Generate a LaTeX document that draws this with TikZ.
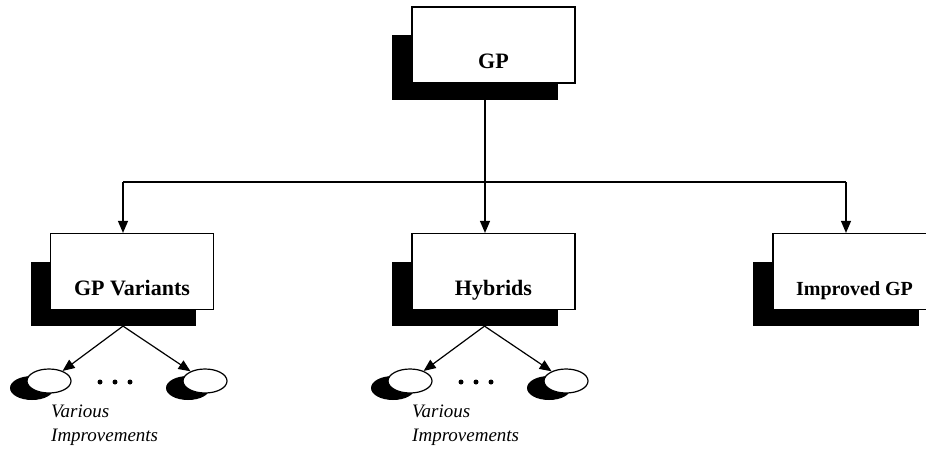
\documentclass[tikz,border=0pt]{standalone}
\usepackage{fontspec}
\setmainfont{Liberation Serif}
\usetikzlibrary{arrows.meta,shapes.geometric,backgrounds}
\tikzset{
  box/.style={draw, fill=white, line width=1.2pt, rectangle, minimum width=163pt, minimum height=76pt, inner sep=0pt, text height=47pt, text depth=0pt, font=\bfseries\fontsize{22}{26}\selectfont},
  oval/.style={draw, fill=white, line width=1.2pt, ellipse, minimum width=44pt, minimum height=24pt, inner sep=0pt},
  arr/.style={line width=1.2pt, -{Triangle[length=12pt,width=10pt]}},
  ln/.style={line width=1.2pt},
  note/.style={anchor=west, align=left, inner sep=0pt, font=\itshape\fontsize{19}{24}\selectfont},
  dotmark/.style={circle, fill=black, inner sep=0pt, minimum size=5pt}
}
\begin{document}
\begin{tikzpicture}[x=1pt,y=-1pt]
\useasboundingbox (0,0) rectangle (926,471);
% boxes
\node[box] (gp) at (493.5,45) {GP};
\node[box] (gpv) at (132,271.5) {GP Variants};
\node[box] (hyb) at (493.5,271.5) {Hybrids};
\node[box, font=\bfseries\fontsize{20}{24}\selectfont] (imp) at (854.5,271.5) {Improved GP};
% shadows
\begin{scope}[on background layer]
\foreach \b in {gp,gpv,hyb,imp}{
  \fill ([xshift=-19pt,yshift=-29pt]\b.north west) rectangle ([xshift=-18pt,yshift=-16pt]\b.south east);
}
\end{scope}
% tree connectors
\coordinate (j) at (485,182);
\draw[ln] ([xshift=-8.5pt]gp.south) -- (j);
\draw[arr] (j) -- (j |- hyb.north);
\draw[ln] ([xshift=-9pt]gpv.north |- j) -- ([xshift=-8.5pt]imp.north |- j);
\draw[arr] ([xshift=-9pt]gpv.north |- j) -- ([xshift=-9pt]gpv.north);
\draw[arr] ([xshift=-8.5pt]imp.north |- j) -- ([xshift=-8.5pt]imp.north);
% ovals
\foreach \b/\dx in {gpv/0,hyb/361}{
  \node[oval] (\b l) at (49+\dx,381) {};
  \node[oval] (\b r) at (205+\dx,381) {};
  \begin{scope}[on background layer]
    \fill ([shift={(-17pt,-7pt)}]\b l.center) ellipse (22pt and 12pt);
    \fill ([shift={(-17pt,-7pt)}]\b r.center) ellipse (22pt and 12pt);
  \end{scope}
  \coordinate (\b s) at ([xshift=-9pt,yshift=-16pt]\b.south);
  \draw[arr] (\b s) -- (\b l);
  \draw[arr] (\b s) -- (\b r);
  \node[dotmark] (\b d1) at (100+\dx,382) {};
  \node[dotmark] (\b d2) at (115+\dx,382) {};
  \node[dotmark] (\b d3) at (130+\dx,382) {};
  \node[note] (\b t) at (51+\dx,425) {Various\\Improvements};
}
\end{tikzpicture}
\end{document}
